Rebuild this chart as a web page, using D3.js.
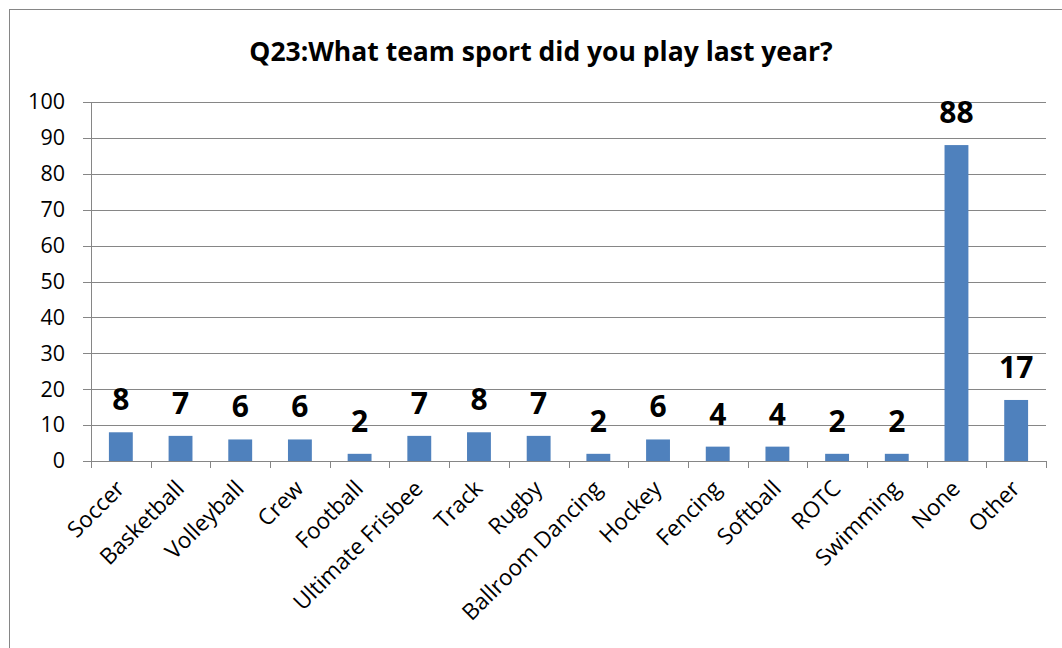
<!DOCTYPE html>
<html><head><meta charset="utf-8">
<script src="https://cdn.jsdelivr.net/npm/d3@7"></script>
<style>body{margin:0;background:#fff;}svg{display:block;font-family:"Open Sans",sans-serif;}</style>
</head><body>
<svg id="c" width="1062" height="648"></svg>
<script>
const categories = ["Soccer","Basketball","Volleyball","Crew","Football","Ultimate Frisbee","Track","Rugby","Ballroom Dancing","Hockey","Fencing","Softball","ROTC","Swimming","None","Other"];
const values = [8,7,6,6,2,7,8,7,2,6,4,4,2,2,88,17];
const yTicks = [0,10,20,30,40,50,60,70,80,90,100];
const title = "Q23:What team sport did you play last year?";

const svg = d3.select("#c");
svg.append("rect").attr("x",9.5).attr("y",9.5).attr("width",1060).attr("height",700)
  .attr("fill","#fff").attr("stroke","#868686").attr("stroke-width",1);

const m = {left:91, right:1046, top:102, bottom:461};
const x = d3.scaleBand().domain(categories).range([m.left,m.right]).paddingInner(0).paddingOuter(0);
const y = d3.scaleLinear().domain([0,100]).range([m.bottom,m.top]);

svg.append("text").attr("x",541).attr("y",61).attr("text-anchor","middle")
  .attr("font-size",26.5).attr("font-weight","bold").attr("fill","#000").text(title);

// gridlines
svg.append("g").selectAll("line").data(yTicks).join("line")
  .attr("x1",m.left-8).attr("x2",m.right).attr("y1",d=>Math.round(y(d))+0.5).attr("y2",d=>Math.round(y(d))+0.5)
  .attr("stroke","#868686").attr("stroke-width",1);

// y axis labels
const yAxis = d3.axisLeft(y).tickValues(yTicks).tickSize(0).tickPadding(0);
const gy = svg.append("g").attr("transform",`translate(${m.left-26},0)`).call(yAxis);
gy.select(".domain").remove();
gy.selectAll("text").attr("font-size",21.5).attr("fill","#000").attr("font-family","'Open Sans',sans-serif");

// y axis line
svg.append("line").attr("x1",m.left+0.5).attr("x2",m.left+0.5).attr("y1",m.top).attr("y2",m.bottom)
  .attr("stroke","#868686");

// x axis ticks
const bounds = categories.map(c=>x(c)).concat([m.right]);
svg.append("g").selectAll("line").data(bounds).join("line")
  .attr("x1",d=>Math.round(d)+0.5).attr("x2",d=>Math.round(d)+0.5).attr("y1",m.bottom).attr("y2",m.bottom+7)
  .attr("stroke","#868686");

// bars
const bw = x.bandwidth()*0.4;
svg.append("g").selectAll("rect").data(categories).join("rect")
  .attr("x",(d)=>x(d)+x.bandwidth()/2-bw/2)
  .attr("width",bw)
  .attr("y",(d,i)=>y(values[i]))
  .attr("height",(d,i)=>y(0)-y(values[i]))
  .attr("fill","#4F81BD");

// value labels
svg.append("g").selectAll("text").data(categories).join("text")
  .attr("x",d=>x(d)+x.bandwidth()/2)
  .attr("y",(d,i)=>y(values[i])-22)
  .attr("text-anchor","middle").attr("font-size",30).attr("font-weight","bold").attr("fill","#000")
  .text((d,i)=>values[i]);

// category labels
svg.append("g").selectAll("text").data(categories).join("text")
  .attr("transform",d=>`translate(${x(d)+x.bandwidth()/2+5},${m.bottom+29}) rotate(-45)`)
  .attr("text-anchor","end").attr("font-size",22.5).attr("fill","#000")
  .text(d=>d);
</script>
</body></html>
